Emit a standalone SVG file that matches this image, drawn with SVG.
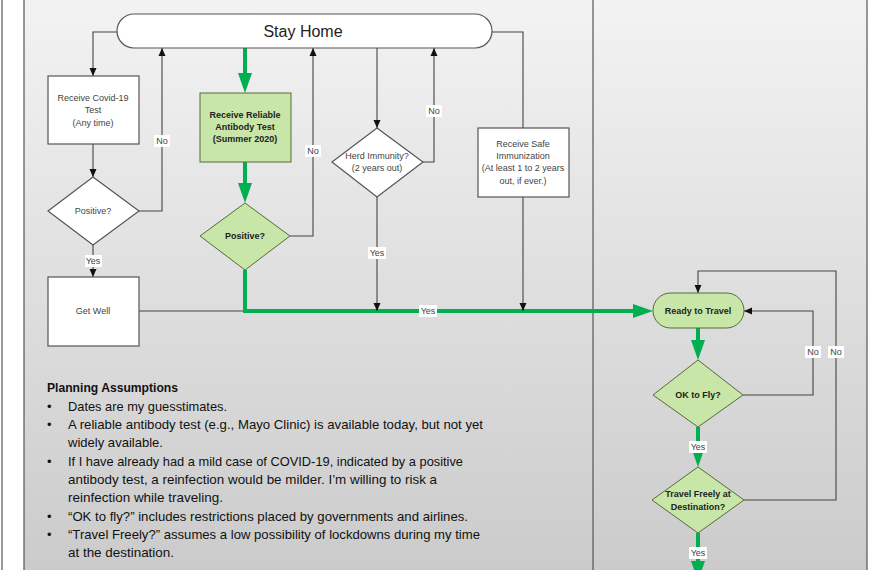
<svg xmlns="http://www.w3.org/2000/svg" width="870" height="570" viewBox="0 0 870 570">
<defs>
<linearGradient id="bg" x1="0" y1="0" x2="0" y2="1">
<stop offset="0" stop-color="#f3f3f3"/>
<stop offset="1" stop-color="#cbcbcb"/>
</linearGradient>
<marker id="ah" markerUnits="userSpaceOnUse" markerWidth="8" markerHeight="8" refX="8" refY="4" orient="auto">
<path d="M0,0.5 L8,4 L0,7.5 z" fill="#111"/>
</marker>
<marker id="gh" markerUnits="userSpaceOnUse" markerWidth="20" markerHeight="16" refX="6" refY="8" orient="auto">
<path d="M0,1 L20,8 L0,15 z" fill="#00b050"/>
</marker>
<style>
.lane{fill:none;stroke:#555;stroke-width:1.2}
.box{fill:#fff;stroke:#555;stroke-width:1.2}
.gbox{fill:#c8e6a8;stroke:#556b3a;stroke-width:1}
.t{font-family:"Liberation Sans",Arial,sans-serif;font-size:9px;fill:#444;text-anchor:middle}
.tb{font-family:"Liberation Sans",Arial,sans-serif;font-size:9px;font-weight:bold;fill:#222;text-anchor:middle}
.c{fill:none;stroke:#444;stroke-width:1.1}
.ca{fill:none;stroke:#444;stroke-width:1.1;marker-end:url(#ah)}
.g{fill:none;stroke:#00b050;stroke-width:4}
.ga{fill:none;stroke:#00b050;stroke-width:4;marker-end:url(#gh)}
.lb{fill:#fff}
.lt{font-family:"Liberation Sans",Arial,sans-serif;font-size:9px;fill:#444;text-anchor:middle}
.p{font-family:"Liberation Sans",Arial,sans-serif;font-size:13px;fill:#111}
.pb{font-family:"Liberation Sans",Arial,sans-serif;font-size:13px;font-weight:bold;fill:#111}
</style>
</defs>
<rect x="0" y="0" width="870" height="570" fill="#fff"/>
<rect x="24" y="-2" width="843" height="574" fill="url(#bg)"/>
<g id="lanes">
<line class="lane" x1="2" y1="0" x2="2" y2="570"/>
<line class="lane" x1="24" y1="0" x2="24" y2="570"/>
<line class="lane" x1="593" y1="0" x2="593" y2="570"/>
<line class="lane" x1="867" y1="0" x2="867" y2="570"/>
</g>
<g id="connectors">
<path class="ca" d="M117,32 H93 V76"/>
<path class="ca" d="M93,144 V177"/>
<path class="ca" d="M139,211 H162 V48"/>
<path class="ca" d="M93,245 V277"/>
<path class="c" d="M139,311 H245"/>
<path class="ga" d="M245,48 V79"/>
<path class="ga" d="M245,162 V189"/>
<path class="ca" d="M290,236 H313 V48"/>
<path class="ga" d="M245,270 V311 H639"/>
<path class="ca" d="M377,48 V128"/>
<path class="ca" d="M423,162 H434 V48"/>
<path class="ca" d="M377,197 V311"/>
<path class="c" d="M492,32 H523 V128"/>
<path class="ca" d="M523,197 V311"/>
<path class="ga" d="M698,328 V346"/>
<path class="ca" d="M743,395 H813 V311 H744"/>
<path class="ga" d="M698,427 V453"/>
<path class="ca" d="M744,500 H836 V271 H698 V293"/>
<path class="ga" d="M698,533 V567"/>
</g>
<g id="labels">
<rect class="lb" x="154" y="135" width="16" height="12"/><text class="lt" x="162" y="144">No</text>
<rect class="lb" x="85" y="255" width="17" height="12"/><text class="lt" x="93" y="264">Yes</text>
<rect class="lb" x="305" y="145" width="16" height="12"/><text class="lt" x="313" y="154">No</text>
<rect class="lb" x="426" y="105" width="16" height="12"/><text class="lt" x="434" y="114">No</text>
<rect class="lb" x="368" y="247" width="18" height="12"/><text class="lt" x="377" y="256">Yes</text>
<rect class="lb" x="419" y="305" width="18" height="12"/><text class="lt" x="428" y="314">Yes</text>
<rect class="lb" x="805" y="346" width="16" height="12"/><text class="lt" x="813" y="355">No</text>
<rect class="lb" x="828" y="346" width="16" height="12"/><text class="lt" x="836" y="355">No</text>
<rect class="lb" x="689" y="441" width="18" height="12"/><text class="lt" x="698" y="450">Yes</text>
<rect class="lb" x="689" y="547" width="18" height="12"/><text class="lt" x="698" y="556">Yes</text>
</g>
<g id="stay-home">
<rect class="box" x="117" y="14" width="375" height="34" rx="17"/>
<text x="303" y="37" font-family="Liberation Sans,Arial,sans-serif" font-size="16" fill="#222" text-anchor="middle">Stay Home</text>
</g>
<g id="receive-covid-test">
<rect class="box" x="48" y="76" width="91" height="68"/>
<text class="t" x="93" y="101">Receive Covid-19</text>
<text class="t" x="93" y="113">Test</text>
<text class="t" x="93" y="126">(Any time)</text>
</g>
<g id="positive-1">
<polygon class="box" points="93,177 139,211 93,245 48,211"/>
<text class="t" x="93" y="214">Positive?</text>
</g>
<g id="get-well">
<rect class="box" x="48" y="277" width="91" height="69"/>
<text class="t" x="93" y="314">Get Well</text>
</g>
<g id="antibody-test">
<rect class="gbox" x="200" y="93" width="91" height="69"/>
<text class="tb" x="245" y="118">Receive Reliable</text>
<text class="tb" x="245" y="130">Antibody Test</text>
<text class="tb" x="245" y="142">(Summer 2020)</text>
</g>
<g id="positive-2">
<polygon class="gbox" points="245,203 290,236 245,270 200,236"/>
<text class="tb" x="245" y="239">Positive?</text>
</g>
<g id="herd-immunity">
<polygon class="box" points="377,128 423,162 377,197 332,162"/>
<text class="t" x="377" y="159">Herd Immunity?</text>
<text class="t" x="377" y="171">(2 years out)</text>
</g>
<g id="safe-immunization">
<rect class="box" x="478" y="128" width="91" height="69"/>
<text class="t" x="523" y="147">Receive Safe</text>
<text class="t" x="523" y="159">Immunization</text>
<text class="t" x="523" y="171">(At least 1 to 2 years</text>
<text class="t" x="523" y="184">out,  if ever.)</text>
</g>
<g id="ready-to-travel">
<rect class="gbox" x="653" y="293" width="91" height="35" rx="17.5"/>
<text class="tb" x="698" y="314">Ready to Travel</text>
</g>
<g id="ok-to-fly">
<polygon class="gbox" points="698,360 743,395 698,427 653,395"/>
<text class="tb" x="698" y="398">OK to Fly?</text>
</g>
<g id="travel-freely">
<polygon class="gbox" points="698,467 744,500 698,533 652,500"/>
<text class="tb" x="698" y="497">Travel Freely at</text>
<text class="tb" x="698" y="510">Destination?</text>
</g>
<g id="planning-assumptions">
<text class="pb" x="47" y="392" textLength="131" lengthAdjust="spacingAndGlyphs">Planning Assumptions</text>
<text class="p" x="47" y="411">•</text>
<text class="p" x="68" y="411" textLength="159" lengthAdjust="spacingAndGlyphs">Dates are my guesstimates.</text>
<text class="p" x="47" y="429">•</text>
<text class="p" x="68" y="429" textLength="415" lengthAdjust="spacingAndGlyphs">A reliable antibody test (e.g., Mayo Clinic) is available today, but not yet</text>
<text class="p" x="68" y="447" textLength="95" lengthAdjust="spacingAndGlyphs">widely available.</text>
<text class="p" x="47" y="466">•</text>
<text class="p" x="68" y="466" textLength="395" lengthAdjust="spacingAndGlyphs">If I have already had a mild case of COVID-19, indicated by a positive</text>
<text class="p" x="68" y="484" textLength="369" lengthAdjust="spacingAndGlyphs">antibody test, a reinfection would be milder. I’m willing to risk a</text>
<text class="p" x="68" y="502" textLength="155" lengthAdjust="spacingAndGlyphs">reinfection while traveling.</text>
<text class="p" x="47" y="521">•</text>
<text class="p" x="68" y="521" textLength="400" lengthAdjust="spacingAndGlyphs">“OK to fly?” includes restrictions placed by governments and airlines.</text>
<text class="p" x="47" y="539">•</text>
<text class="p" x="68" y="539" textLength="412" lengthAdjust="spacingAndGlyphs">“Travel Freely?” assumes a low possibility of lockdowns during my time</text>
<text class="p" x="68" y="557" textLength="106" lengthAdjust="spacingAndGlyphs">at the destination.</text>
</g>
</svg>
